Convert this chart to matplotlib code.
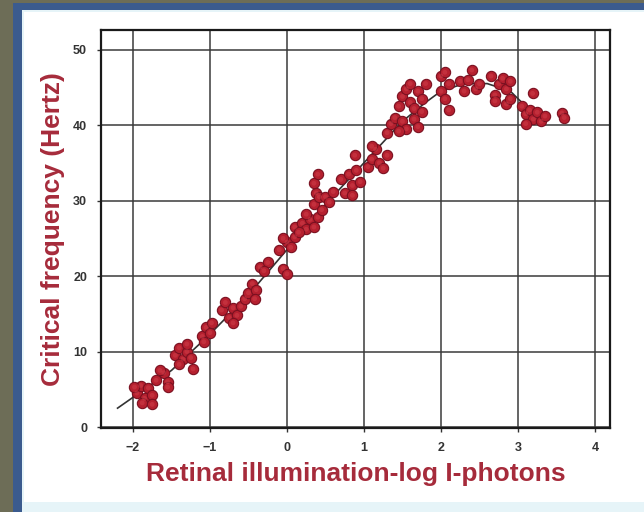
import matplotlib
matplotlib.use("Agg")
import matplotlib.pyplot as plt
from matplotlib.patches import Rectangle

# ---- data ----
pts_x = [
    -1.95, -1.9, -1.85, -1.8, -1.75, -1.88, -1.75, -1.98,
    -1.7, -1.6, -1.55, -1.65, -1.55,
    -1.45, -1.4, -1.35, -1.3, -1.4, -1.25, -1.3, -1.22,
    -1.1, -1.05, -1.0, -0.98, -1.08,
    -0.85, -0.8, -0.75, -0.7, -0.65, -0.6, -0.55, -0.7,
    -0.5, -0.45, -0.4, -0.42,
    -0.35, -0.25, -0.3,
    -0.1, 0.0, 0.05, -0.05, 0.1, -0.05, 0.0,
    0.1, 0.2, 0.25, 0.15,
    0.3, 0.35, 0.4, 0.25,
    0.35, 0.38, 0.35, 0.4, 0.42, 0.45,
    0.5, 0.6, 0.55,
    0.7, 0.8, 0.85, 0.9, 0.75, 0.95, 0.85, 0.88,
    1.05, 1.1, 1.15, 1.2, 1.25, 1.1, 1.3,
    1.3, 1.35, 1.4, 1.5, 1.55, 1.45, 1.65, 1.7,
    1.45, 1.5, 1.55, 1.6, 1.65, 1.7, 1.75, 1.8, 1.6, 1.75,
    2.0, 2.05, 2.0, 2.1, 2.05, 2.1,
    2.4, 2.25, 2.3, 2.45, 2.5, 2.35,
    2.65, 2.7, 2.75, 2.8, 2.85, 2.9, 2.7, 2.85, 2.9,
    3.19,
    3.05, 3.1, 3.15, 3.2, 3.25, 3.3, 3.35, 3.1,
    3.57, 3.6,
]
pts_y = [
    4.5, 5.5, 3.8, 5.2, 4.2, 3.2, 3.0, 5.3,
    6.2, 7.2, 6.0, 7.5, 5.3,
    9.5, 10.5, 9.0, 10.0, 8.3, 9.2, 11.0, 7.7,
    12.0, 13.2, 12.5, 13.8, 11.3,
    15.5, 16.5, 14.5, 15.8, 14.8, 16.0, 17.0, 13.8,
    17.8, 19.0, 18.2, 17.0,
    21.2, 21.8, 20.7,
    23.5, 24.5, 23.8, 25.0, 25.2, 21.0, 20.3,
    26.5, 27.0, 26.2, 25.8,
    27.5, 26.5, 27.8, 28.2,
    29.5, 31.0, 32.3, 33.5, 30.5, 28.8,
    30.5, 31.2, 29.8,
    32.8, 33.5, 32.0, 34.0, 31.0, 32.5, 30.7, 36.0,
    34.5, 35.5, 36.8, 35.0, 34.3, 37.2, 36.0,
    39.0, 40.2, 41.0, 40.5, 39.5, 39.2, 40.8, 39.8,
    42.5, 43.8, 44.8, 43.0, 42.2, 44.5, 43.5, 45.5, 45.5, 41.8,
    46.5, 47.0, 44.5, 45.5, 43.5, 42.0,
    47.3, 45.8, 44.5, 44.8, 45.5, 46.0,
    46.5, 44.0, 45.5, 46.2, 44.8, 45.8, 43.2, 42.8, 43.5,
    44.2,
    42.5, 41.5, 42.0, 40.8, 41.7, 40.5, 41.2, 40.2,
    41.6, 41.0,
]

curve_x = [-2.2, -1.5, -1.0, -0.5, 0.0, 0.5, 1.0, 1.5, 1.8, 2.0, 2.3, 2.6, 2.9, 3.1, 3.35]
curve_y = [2.5, 7.5, 12.3, 17.5, 23.5, 29.5, 35.0, 40.5, 43.0, 44.5, 45.5, 45.5, 44.5, 42.5, 40.3]

xticks = [-2, -1, 0, 1, 2, 3, 4]
xticklabels = ["\u22122", "\u22121", "0", "1", "2", "3", "4"]
yticks = [0, 10, 20, 30, 40, 50]
yticklabels = ["0", "10", "20", "30", "40", "50"]

W, H = 644, 512
fig = plt.figure(figsize=(W / 100, H / 100), dpi=100)
fig.patch.set_facecolor("#6d6d57")

def frect(x0, y0, x1, y1, color):
    fig.patches.append(Rectangle((x0 / W, 1 - y1 / H), (x1 - x0) / W, (y1 - y0) / H,
                                 transform=fig.transFigure, facecolor=color,
                                 edgecolor="none", zorder=-10))

frect(13, 3, W, H, "#3b5b8e")
frect(22, 10, W, H, "#e6f4f8")
frect(24, 12, W, 502, "#ffffff")

ax = fig.add_axes([101 / W, 1 - 428 / H, 509 / W, 398 / H])
ax.set_facecolor("white")
ax.set_xlim(-2.415, 4.195)
ax.set_ylim(-0.13, 52.6)

ax.set_xticks(xticks)
ax.set_xticklabels(xticklabels)
ax.set_yticks(yticks)
ax.set_yticklabels(yticklabels)
ax.grid(True, color="#3a3a3a", linewidth=1.1)
ax.set_axisbelow(True)
for s in ax.spines.values():
    s.set_color("#1a1a1a")
    s.set_linewidth(1.6)
ax.tick_params(direction="out", length=3, width=1, color="#333333", pad=7,
               labelsize=9, labelcolor="#333333")
for lab in ax.get_xticklabels() + ax.get_yticklabels():
    lab.set_fontweight("bold")
    lab.set_family(["Liberation Sans", "DejaVu Sans"])

ax.plot(curve_x, curve_y, color="#333333", linewidth=1.2, zorder=2)
ax.scatter(pts_x, pts_y, s=55, color="#b5202f", edgecolors="#7a1020",
           linewidths=0.8, zorder=3)
ax.scatter(pts_x, pts_y, s=12, color="#e0505a", edgecolors="none", alpha=0.35, zorder=4)

lab_color = "#a62b3b"
ax.set_xlabel("Retinal illumination-log I-photons", fontsize=19, fontweight="bold",
              color=lab_color, family=["Liberation Sans", "DejaVu Sans"], labelpad=6)
ax.set_ylabel("Critical frequency (Hertz)", fontsize=19, fontweight="bold",
              color=lab_color, family=["Liberation Sans", "DejaVu Sans"], labelpad=6)

fig.savefig("out.png", dpi=100, facecolor=fig.get_facecolor())
